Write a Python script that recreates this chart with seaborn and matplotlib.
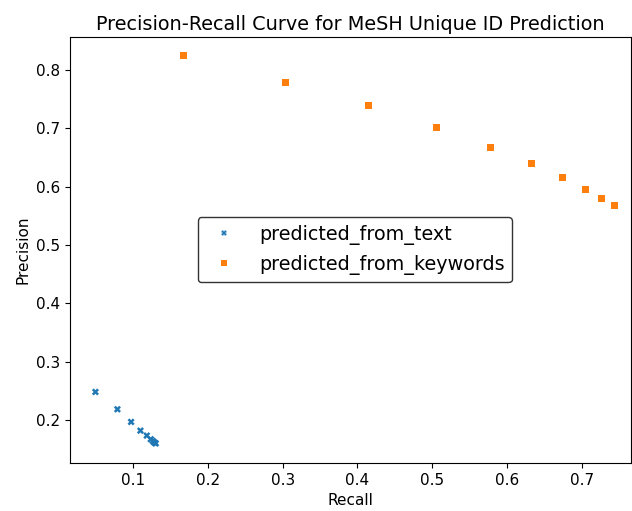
import matplotlib
matplotlib.use("Agg")
import matplotlib.pyplot as plt
import seaborn as sns
import pandas as pd

text_recall = [0.0496, 0.079, 0.0973, 0.1098, 0.1183, 0.1236, 0.1263, 0.128, 0.1294, 0.1302]
text_precision = [0.248, 0.2183, 0.1966, 0.1817, 0.1732, 0.167, 0.1641, 0.1617, 0.1606, 0.1598]
kw_recall = [0.168, 0.3035, 0.4154, 0.5063, 0.5775, 0.6328, 0.674, 0.705, 0.727, 0.7437]
kw_precision = [0.824, 0.779, 0.739, 0.7017, 0.6675, 0.639, 0.615, 0.595, 0.579, 0.5674]
series_names = ["predicted_from_text", "predicted_from_keywords"]

df = pd.DataFrame({
    "Recall": text_recall + kw_recall,
    "Precision": text_precision + kw_precision,
    "Source": [series_names[0]] * len(text_recall) + [series_names[1]] * len(kw_recall),
})

fig, ax = plt.subplots(figsize=(6.32, 5.11), dpi=100)
fig.subplots_adjust(left=0.111, right=0.998, top=0.928, bottom=0.094)
sns.scatterplot(data=df, x="Recall", y="Precision", hue="Source", style="Source",
                markers={series_names[0]: "X", series_names[1]: "s"},
                palette=["#1f77b4", "#ff7f0e"], s=26, linewidth=0, ax=ax)
ax.set_xlim(0.0158, 0.7655)
ax.set_ylim(0.1263, 0.8566)
ax.set_title("Precision-Recall Curve for MeSH Unique ID Prediction", fontsize=13.85, pad=5)
ax.set_xlabel("Recall", fontsize=11)
ax.set_ylabel("Precision", fontsize=11)
ax.tick_params(labelsize=11)
leg = ax.legend(loc="center", bbox_to_anchor=(0.508, 0.5), fontsize=13.8,
                markerscale=0.8, edgecolor="black")
leg.get_frame().set_linewidth(1.0)
fig.savefig("out.png", dpi=100)
